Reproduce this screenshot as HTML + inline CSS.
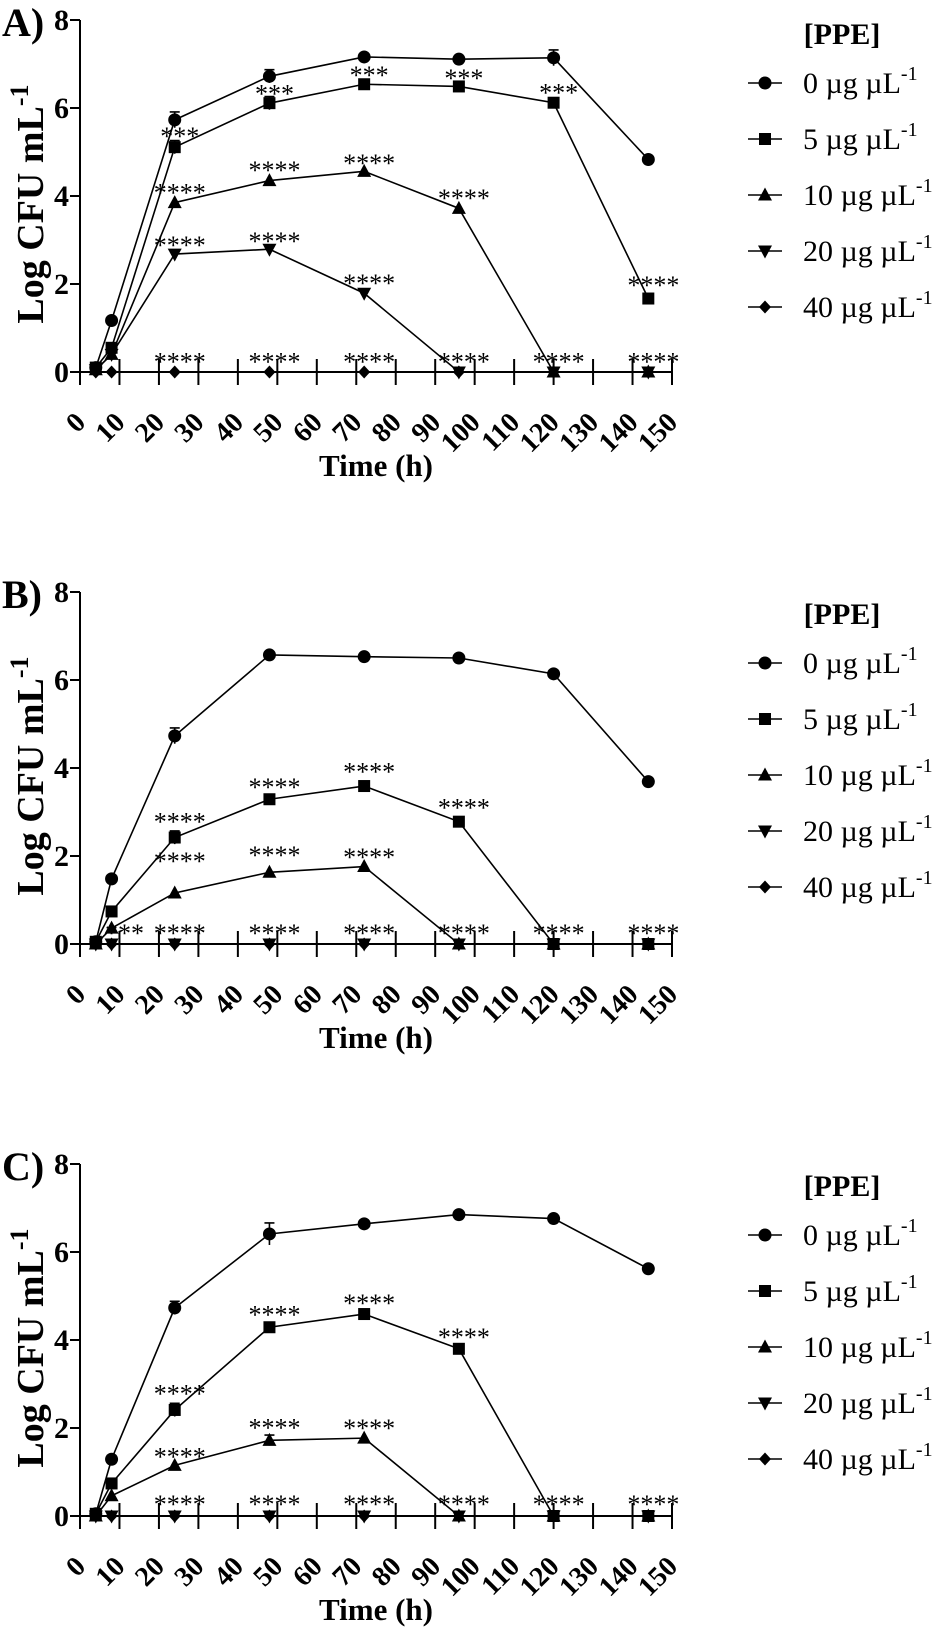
<!DOCTYPE html>
<html><head><meta charset="utf-8">
<style>
html,body{margin:0;padding:0;background:#fff;}
svg{display:block;font-family:"Liberation Serif",serif;}
</style></head>
<body>
<svg id="fig" width="944" height="1637" viewBox="0 0 944 1637" xmlns="http://www.w3.org/2000/svg"></svg>
<script>
const times = [4, 8, 24, 48, 72, 96, 120, 144];
const xTicks = [0,10,20,30,40,50,60,70,80,90,100,110,120,130,140,150];
const yTicks = [0,2,4,6,8];
const seriesLabels = ["0", "5", "10", "20", "40"];
const markers = ["circle","square","triangle","tridown","diamond"];
const panelLabels = ["A)","B)","C)"];

// Panel A
const a0 = [0.1, 1.17, 5.73, 6.72, 7.16, 7.11, 7.14, 4.83];
const a5 = [0.1, 0.55, 5.11, 6.11, 6.54, 6.49, 6.12, 1.67];
const a10 = [0.05, 0.4, 3.85, 4.35, 4.56, 3.72, 0, 0];
const a20 = [0.05, 0.4, 2.68, 2.79, 1.79, 0, 0, 0];
const a40 = [0, 0, 0, 0, 0, 0, 0, 0];
const aErr0 = [0,0,0.18,0.15,0,0,0.18,0];
const aErr5 = [0,0,0.15,0.15,0,0,0,0];
const aStarT = [24,48,72,96,120,144, 24,48,72,96, 24,48,72, 24,48,72,96,120,144];
const aStarV = [5.45,6.42,6.84,6.77,6.44,2.07, 4.17,4.68,4.84,4.05, 2.98,3.07,2.11, 0.33,0.33,0.33,0.33,0.33,0.33];
const aStarS = ["***","***","***","***","***","****", "****","****","****","****", "****","****","****", "****","****","****","****","****","****"];

// Panel B
const b0 = [0.05, 1.48, 4.73, 6.57, 6.53, 6.50, 6.14, 3.69];
const b5 = [0.05, 0.74, 2.42, 3.29, 3.59, 2.78, 0, 0];
const b10 = [0, 0.36, 1.16, 1.63, 1.76, 0, 0, 0];
const b20 = [0, 0, 0, 0, 0, 0, 0, 0];
const b40 = [0, 0, 0, 0, 0, 0, 0, 0];
const bErr0 = [0,0,0.18,0,0,0,0,0];
const bErr5 = [0,0,0.15,0,0,0,0,0];
const bStarT = [24,48,72,96, 24,48,72, 10,24,48,72,96,120,144];
const bStarV = [2.87,3.66,4.01,3.19, 1.98,2.11,2.07, 0.34,0.34,0.34,0.34,0.34,0.34,0.34];
const bStarS = ["****","****","****","****", "****","****","****", "***","****","****","****","****","****","****"];

// Panel C
const c0 = [0.05, 1.29, 4.73, 6.41, 6.64, 6.85, 6.76, 5.62];
const c5 = [0.05, 0.74, 2.41, 4.29, 4.59, 3.80, 0, 0];
const c10 = [0, 0.46, 1.15, 1.72, 1.77, 0, 0, 0];
const c20 = [0, 0, 0, 0, 0, 0, 0, 0];
const c40 = [0, 0, 0, 0, 0, 0, 0, 0];
const cErr0 = [0,0,0.15,0.25,0,0,0,0];
const cErr5 = [0,0,0.15,0,0,0,0,0];
const cErr10 = [0,0,0,0.12,0,0,0,0];
const cStarT = [24,48,72,96, 24,48,72, 24,48,72,96,120,144];
const cStarV = [2.88,4.67,4.93,4.16, 1.44,2.10,2.09, 0.36,0.36,0.36,0.36,0.36,0.36];
const cStarS = ["****","****","****","****", "****","****","****", "****","****","****","****","****","****"];

const panels = [
  {series:[a0,a5,a10,a20,a40], errs:[aErr0,aErr5,null,null,null], st:aStarT, sv:aStarV, ss:aStarS},
  {series:[b0,b5,b10,b20,b40], errs:[bErr0,bErr5,null,null,null], st:bStarT, sv:bStarV, ss:bStarS},
  {series:[c0,c5,c10,c20,c40], errs:[cErr0,cErr5,cErr10,null,null], st:cStarT, sv:cStarV, ss:cStarS}
];

const NS = "http://www.w3.org/2000/svg";
const svg = document.getElementById('fig');
function mk(tag, attrs, parent){
  const e = document.createElementNS(NS, tag);
  for (const k in attrs) e.setAttribute(k, attrs[k]);
  (parent||svg).appendChild(e);
  return e;
}
const X0 = 80, X1 = 672;
function xs(t){ return X0 + (t/150)*(X1-X0); }

function marker(g, type, cx, cy, name){
  let e;
  if (type==="circle") e = mk('circle',{cx:cx,cy:cy,r:6.5,fill:'#000'},g);
  else if (type==="square") e = mk('rect',{x:cx-6,y:cy-6,width:12,height:12,fill:'#000'},g);
  else if (type==="triangle") e = mk('polygon',{points:`${cx},${cy-7.5} ${cx+7},${cy+5.5} ${cx-7},${cy+5.5}`,fill:'#000'},g);
  else if (type==="tridown") e = mk('polygon',{points:`${cx},${cy+7.5} ${cx+7},${cy-5.5} ${cx-7},${cy-5.5}`,fill:'#000'},g);
  else e = mk('polygon',{points:`${cx},${cy-6.5} ${cx+6},${cy} ${cx},${cy+6.5} ${cx-6},${cy}`,fill:'#000'},g);
  
  
  return e;
}

panels.forEach((p, pi) => {
  const Y0 = 372 + pi*572;
  const Y8 = Y0 - 352;
  const ys = v => Y0 - (v/8)*(Y0-Y8);
  const g = mk('g',{});
  
  

  const pl = mk('text',{x:2,y:Y8+16,'font-size':40,'font-weight':'bold'},g);
  pl.textContent = panelLabels[pi];
  
  

  const ax = mk('g',{stroke:'#000','stroke-width':2},g);
  
  
  mk('line',{x1:X0,y1:Y8,x2:X0,y2:Y0+13},ax);
  mk('line',{x1:X0,y1:Y0,x2:X1,y2:Y0},ax);
  yTicks.forEach(v=>{
    mk('line',{x1:X0-10,y1:ys(v),x2:X0,y2:ys(v)},ax);
    const t = mk('text',{x:X0-11,y:ys(v)+10,'font-size':30,'font-weight':'bold','text-anchor':'end',stroke:'none'},g);
    t.textContent = v;
    
    
  });
  xTicks.forEach(v=>{
    const x = xs(v);
    mk('line',{x1:x,y1:Y0-13,x2:x,y2:Y0+13},ax);
    const tx = x+7, ty = Y0+52;
    const t = mk('text',{x:tx,y:ty,'font-size':28,'font-weight':'bold','text-anchor':'end',transform:`rotate(-45 ${tx} ${ty})`},g);
    t.textContent = v;
    
    
  });
  const xt = mk('text',{x:376,y:Y0+104,'font-size':31,'font-weight':'bold','text-anchor':'middle'},g);
  xt.textContent = 'Time (h)';
  
  
  const ycx = 43, ycy = Y0-168;
  const yt = mk('text',{x:ycx,y:ycy,'font-size':38,'font-weight':'bold','text-anchor':'middle',transform:`rotate(-90 ${ycx} ${ycy})`},g);
  yt.innerHTML = 'Log CFU mL<tspan dy="-15" font-size="26">-1</tspan>';
  
  

  for (let si = 4; si >= 0; si--){
    const vals = p.series[si];
    const sg = mk('g',{},g);
    
    
    const pts = times.map((t,i)=>xs(t)+','+ys(vals[i])).join(' ');
    const pl2 = mk('polyline',{points:pts,fill:'none',stroke:'#000','stroke-width':1.6},sg);
    
    
    const er = p.errs[si];
    if (er){
      times.forEach((t,i)=>{
        if (er[i]>0){
          const x = xs(t), yh = ys(vals[i]+er[i]), yl = ys(vals[i]-er[i]);
          const eb = mk('path',{d:`M${x},${yl}V${yh}M${x-5},${yh}H${x+5}`,stroke:'#000','stroke-width':1.6,fill:'none'},sg);
          
          
        }
      });
    }
    times.forEach((t,i)=>marker(sg, markers[si], xs(t), ys(vals[i]), 'point'));
  }
  p.st.forEach((t,i)=>{
    const s = mk('text',{x:xs(t)+5,y:ys(p.sv[i])+13,'font-size':26,'text-anchor':'middle'},g);
    s.textContent = p.ss[i];
    
    
  });

  const lg = mk('g',{},g);
  
  
  const ly = Y0 - 339 + (pi>0 ? 8 : 0);
  const lt = mk('text',{x:842,y:ly+11,'font-size':30,'font-weight':'bold','text-anchor':'middle'},lg);
  lt.textContent = '[PPE]';
  
  
  seriesLabels.forEach((lab,si)=>{
    const cy = ly + 50 + si*56;
    const eg = mk('g',{},lg);
    
    
    mk('line',{x1:748,y1:cy,x2:782,y2:cy,stroke:'#000','stroke-width':1.6},eg);
    marker(eg, markers[si], 765, cy, 'legend-marker');
    const tt = mk('text',{x:803,y:cy+10,'font-size':30},eg);
    tt.innerHTML = lab + ' µg µL<tspan dy="-13" font-size="20">-1</tspan>';
  });
});
</script>
</body></html>
